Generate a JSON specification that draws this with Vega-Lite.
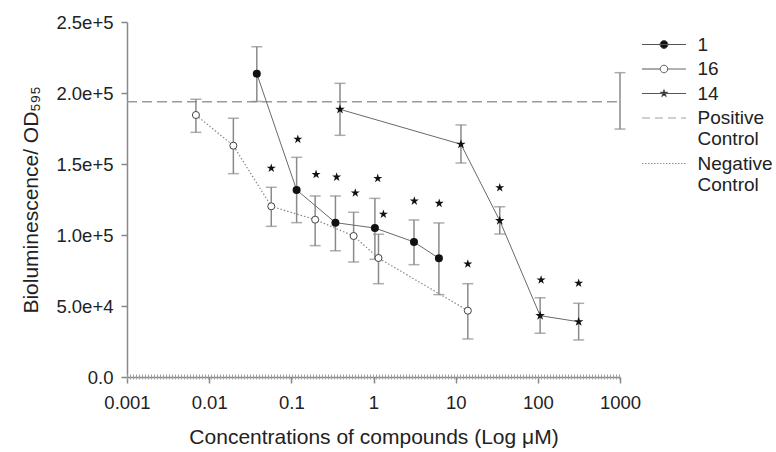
{
  "$schema": "https://vega.github.io/schema/vega-lite/v6.json",
  "autosize": "none",
  "width": 493,
  "height": 355,
  "padding": {"left": 127, "top": 22, "right": 156, "bottom": 75},
  "background": "white",
  "config": {
    "view": {"stroke": null},
    "font": "Liberation Sans",
    "axis": {
      "grid": false,
      "domainColor": "#888888",
      "domainWidth": 1.5,
      "tickColor": "#888888",
      "tickWidth": 1.5,
      "tickSize": 6,
      "labelFontSize": 18.5,
      "labelColor": "#222222",
      "titleFontSize": 21,
      "titleFontWeight": "normal",
      "titleColor": "#222222",
      "labelFlush": false,
      "labelOverlap": false
    },
    "legend": {
      "title": null,
      "orient": "none",
      "legendX": 525.5,
      "legendY": 11,
      "padding": 0,
      "symbolSize": 484,
      "symbolStrokeWidth": 1,
      "labelFontSize": 19,
      "labelColor": "#222222",
      "labelOffset": 22,
      "rowPadding": 2.5
    }
  },
  "datasets": {
    "pts": [
      {"series": "1", "conc": 0.038, "value": 213600, "lo": 194000, "hi": 232600},
      {"series": "1", "conc": 0.116, "value": 131700, "lo": 108700, "hi": 154700},
      {"series": "1", "conc": 0.344, "value": 108700, "lo": 88900, "hi": 127500},
      {"series": "1", "conc": 1.04, "value": 104900, "lo": 82900, "hi": 125800},
      {"series": "1", "conc": 3.11, "value": 95100, "lo": 79100, "hi": 110600},
      {"series": "1", "conc": 6.25, "value": 83600, "lo": 58000, "hi": 108500},
      {"series": "16", "conc": 0.0069, "value": 184500, "lo": 172300, "hi": 195600},
      {"series": "16", "conc": 0.0197, "value": 162900, "lo": 143200, "hi": 182200},
      {"series": "16", "conc": 0.057, "value": 120200, "lo": 106100, "hi": 133600},
      {"series": "16", "conc": 0.195, "value": 110800, "lo": 92500, "hi": 127500},
      {"series": "16", "conc": 0.573, "value": 99300, "lo": 81000, "hi": 116000},
      {"series": "16", "conc": 1.15, "value": 83800, "lo": 65700, "hi": 100500},
      {"series": "16", "conc": 14.06, "value": 46700, "lo": 26800, "hi": 65700},
      {"series": "14", "conc": 0.391, "value": 188500, "lo": 170200, "hi": 206800},
      {"series": "14", "conc": 11.6, "value": 163900, "lo": 150700, "hi": 177500},
      {"series": "14", "conc": 34.4, "value": 110100, "lo": 100700, "hi": 119900},
      {"series": "14", "conc": 106.6, "value": 43200, "lo": 30800, "hi": 55800},
      {"series": "14", "conc": 314, "value": 38900, "lo": 26100, "hi": 51900},
      {"series": "Positive Control", "conc": 1000, "value": 193900, "lo": 174600, "hi": 214300}
    ],
    "ctrl": [
      {"series": "Positive Control", "conc": 0.001, "value": 193900},
      {"series": "Positive Control", "conc": 1000, "value": 193900},
      {"series": "Negative Control", "conc": 0.001, "value": 0},
      {"series": "Negative Control", "conc": 1000, "value": 0}
    ],
    "ann": [
      {"conc": 0.057, "value": 147000},
      {"conc": 0.12, "value": 167400},
      {"conc": 0.2, "value": 142700},
      {"conc": 0.356, "value": 140800},
      {"conc": 0.6, "value": 129600},
      {"conc": 1.127, "value": 139900},
      {"conc": 1.32, "value": 114600},
      {"conc": 3.14, "value": 123900},
      {"conc": 6.3, "value": 122300},
      {"conc": 14.06, "value": 79600},
      {"conc": 34.4, "value": 133300},
      {"conc": 109.6, "value": 68300},
      {"conc": 314, "value": 66000}
    ]
  },
  "encoding": {
    "x": {
      "field": "conc",
      "type": "quantitative",
      "scale": {"type": "log", "domain": [0.001, 1000], "nice": false},
      "axis": {
        "title": "Concentrations of compounds (Log μM)",
        "values": [0.001, 0.01, 0.1, 1, 10, 100, 1000],
        "labelExpr": "datum.value >= 1 ? format(datum.value, 'd') : format(datum.value, '~g')",
        "labelPadding": 10,
        "titlePadding": 15
      }
    },
    "y": {
      "field": "value",
      "type": "quantitative",
      "scale": {"domain": [0, 250000], "nice": false, "zero": true},
      "axis": {
        "title": "Bioluminescence/ OD₅₉₅",
        "values": [0, 50000, 100000, 150000, 200000, 250000],
        "labelExpr": "datum.value == 0 ? '0.0' : format(datum.value, '.1e')",
        "labelPadding": 8,
        "titlePadding": 14
      }
    }
  },
  "layer": [
    {
      "data": {"name": "ctrl"},
      "transform": [{"filter": "datum.series == 'Positive Control'"}],
      "mark": {"type": "line", "color": "#9a9a9a", "strokeWidth": 1.5, "strokeDash": [10, 5]},
      "encoding": {}
    },
    {
      "data": {"name": "ctrl"},
      "transform": [{"filter": "datum.series == 'Negative Control'"}],
      "mark": {"type": "line", "color": "#a0a0a0", "strokeWidth": 5, "strokeDash": [1, 2]},
      "encoding": {}
    },
    {
      "data": {"name": "pts"},
      "mark": {"type": "rule", "color": "#8a8a8a", "strokeWidth": 1.5},
      "encoding": {"y": {"field": "lo", "type": "quantitative"}, "y2": {"field": "hi"}}
    },
    {
      "data": {"name": "pts"},
      "mark": {"type": "tick", "orient": "horizontal", "color": "#8a8a8a", "size": 11, "thickness": 1.5},
      "encoding": {"y": {"field": "lo", "type": "quantitative"}}
    },
    {
      "data": {"name": "pts"},
      "mark": {"type": "tick", "orient": "horizontal", "color": "#8a8a8a", "size": 11, "thickness": 1.5},
      "encoding": {"y": {"field": "hi", "type": "quantitative"}}
    },
    {
      "data": {"name": "pts"},
      "transform": [{"filter": "datum.series == '1' || datum.series == '14'"}],
      "mark": {"type": "line", "color": "#6a6a6a", "strokeWidth": 1},
      "encoding": {"detail": {"field": "series"}}
    },
    {
      "data": {"name": "pts"},
      "transform": [{"filter": "datum.series == '16'"}],
      "mark": {"type": "line", "color": "#888888", "strokeWidth": 1.2, "strokeDash": [1.5, 2]},
      "encoding": {}
    },
    {
      "data": {"name": "pts"},
      "transform": [{"filter": "datum.series == '1'"}],
      "mark": {"type": "point", "shape": "circle", "filled": true, "color": "#111111", "size": 64, "opacity": 1},
      "encoding": {}
    },
    {
      "data": {"name": "pts"},
      "transform": [{"filter": "datum.series == '16'"}],
      "mark": {"type": "point", "shape": "circle", "filled": true, "fill": "white", "stroke": "#444444", "strokeWidth": 1, "size": 50, "opacity": 1},
      "encoding": {}
    },
    {
      "data": {"name": "pts"},
      "transform": [{"filter": "datum.series == '14'"}],
      "mark": {"type": "point", "shape": "M0,-1L0.2245,-0.309L0.9511,-0.309L0.3633,0.118L0.5878,0.809L0,0.382L-0.5878,0.809L-0.3633,0.118L-0.9511,-0.309L-0.2245,-0.309Z", "filled": true, "color": "#111111", "size": 100, "opacity": 1},
      "encoding": {}
    },
    {
      "data": {"name": "ann"},
      "mark": {"type": "point", "shape": "M0,-1L0.2245,-0.309L0.9511,-0.309L0.3633,0.118L0.5878,0.809L0,0.382L-0.5878,0.809L-0.3633,0.118L-0.9511,-0.309L-0.2245,-0.309Z", "filled": true, "color": "#111111", "size": 90, "opacity": 1},
      "encoding": {}
    },
    {
      "data": {"values": []},
      "mark": {"type": "point", "filled": true, "strokeWidth": 1, "opacity": 1},
      "encoding": {
        "shape": {
          "field": "series", "type": "nominal",
          "scale": {
            "domain": ["1", "16", "14", "Positive Control", "Negative Control"],
            "range": [
              "M-2,0L2,0M0.36,0A0.36,0.36 0 1,1 -0.36,0A0.36,0.36 0 1,1 0.36,0Z",
              "M-2,0L-0.34,0M0.34,0L2,0M0.34,0A0.34,0.34 0 1,1 -0.34,0A0.34,0.34 0 1,1 0.34,0Z",
              "M-2,0L2,0M0,-0.35L0.079,-0.108L0.333,-0.108L0.127,0.041L0.206,0.283L0,0.134L-0.206,0.283L-0.127,0.041L-0.333,-0.108L-0.079,-0.108Z",
              "M-2,0L2,0",
              "M-2,0L2,0"
            ]
          },
          "legend": {"labelExpr": "split(datum.label, ' ')"}
        },
        "fill": {
          "field": "series", "type": "nominal",
          "scale": {
            "domain": ["1", "16", "14", "Positive Control", "Negative Control"],
            "range": ["#111111", "#ffffff", "#111111", "transparent", "transparent"]
          },
          "legend": {"labelExpr": "split(datum.label, ' ')"}
        },
        "stroke": {
          "field": "series", "type": "nominal",
          "scale": {
            "domain": ["1", "16", "14", "Positive Control", "Negative Control"],
            "range": ["#555555", "#555555", "#555555", "#a0a0a0", "#909090"]
          },
          "legend": {"labelExpr": "split(datum.label, ' ')"}
        },
        "strokeDash": {
          "field": "series", "type": "nominal",
          "scale": {
            "domain": ["1", "16", "14", "Positive Control", "Negative Control"],
            "range": [[1, 0], [1, 0], [1, 0], [8, 5], [1.5, 1.5]]
          },
          "legend": {"labelExpr": "split(datum.label, ' ')"}
        }
      }
    }
  ]
}
